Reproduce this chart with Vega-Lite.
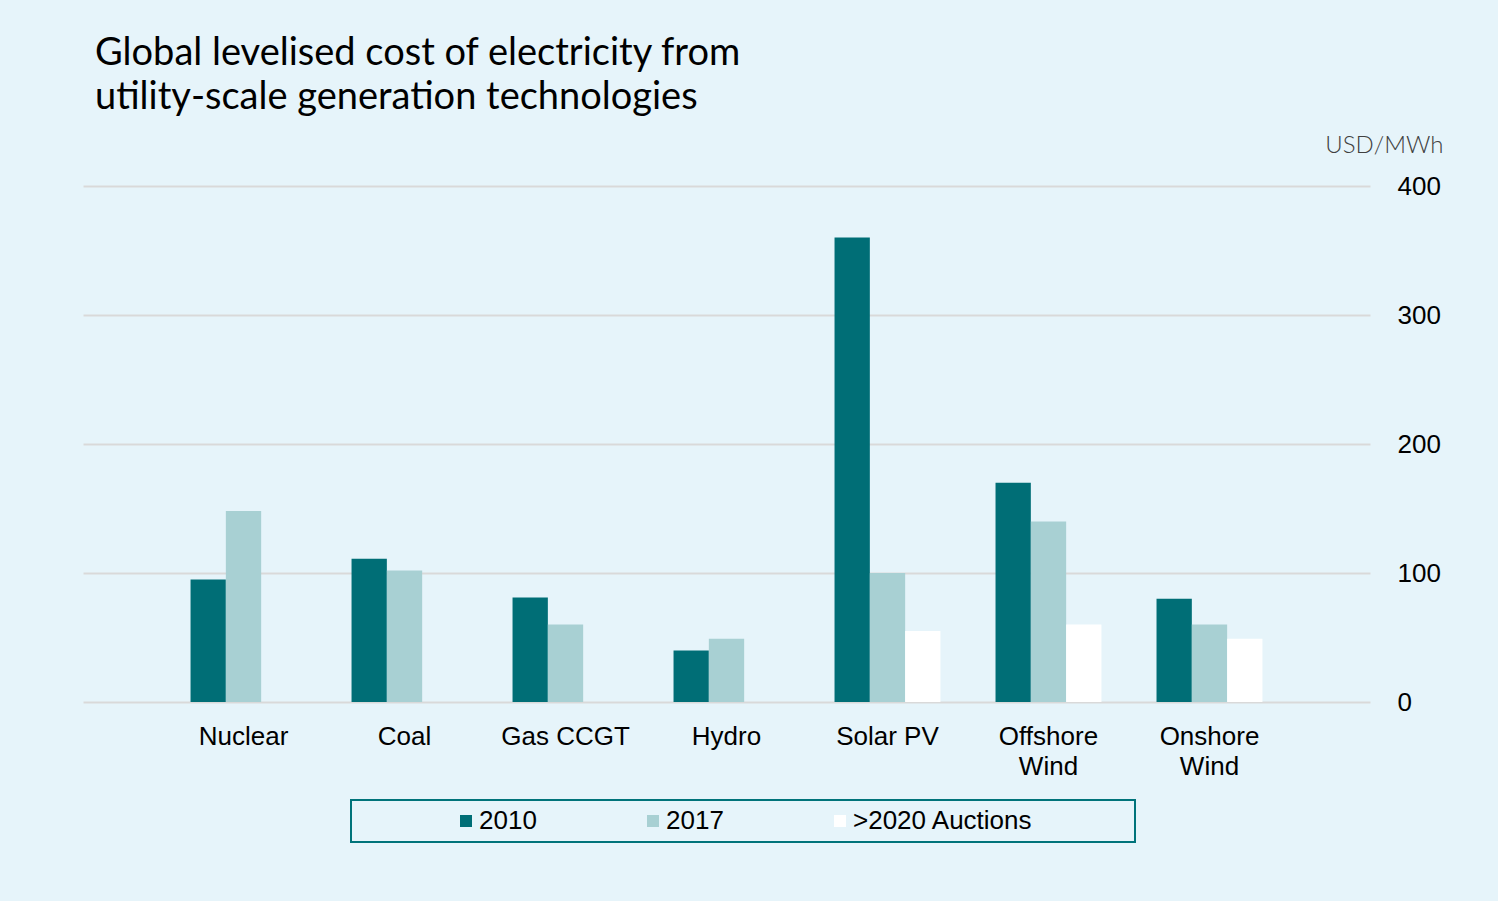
{
  "$schema": "https://vega.github.io/schema/vega-lite/v6.json",
  "width": 1287,
  "height": 516,
  "autosize": {"type": "none"},
  "padding": {"left": 83, "top": 186, "right": 128, "bottom": 199},
  "background": "#E6F4FA",
  "title": {
    "text": ["Global levelised cost of electricity from", "utility-scale generation technologies"],
    "anchor": "start",
    "frame": "group",
    "dx": 12,
    "offset": 16,
    "font": "Lato",
    "fontSize": 38,
    "fontWeight": "normal",
    "color": "#000000",
    "lineHeight": 44
  },
  "data": {
    "values": [
      {"technology": "Nuclear", "series": "2010", "value": 95},
      {"technology": "Nuclear", "series": "2017", "value": 148},
      {"technology": "Coal", "series": "2010", "value": 111},
      {"technology": "Coal", "series": "2017", "value": 102},
      {"technology": "Gas CCGT", "series": "2010", "value": 81},
      {"technology": "Gas CCGT", "series": "2017", "value": 60},
      {"technology": "Hydro", "series": "2010", "value": 40},
      {"technology": "Hydro", "series": "2017", "value": 49},
      {"technology": "Solar PV", "series": "2010", "value": 360},
      {"technology": "Solar PV", "series": "2017", "value": 100},
      {"technology": "Solar PV", "series": ">2020 Auctions", "value": 55},
      {"technology": "Offshore Wind", "series": "2010", "value": 170},
      {"technology": "Offshore Wind", "series": "2017", "value": 140},
      {"technology": "Offshore Wind", "series": ">2020 Auctions", "value": 60},
      {"technology": "Onshore Wind", "series": "2010", "value": 80},
      {"technology": "Onshore Wind", "series": "2017", "value": 60},
      {"technology": "Onshore Wind", "series": ">2020 Auctions", "value": 49}
    ]
  },
  "mark": {"type": "bar"},
  "encoding": {
    "x": {
      "field": "technology",
      "type": "nominal",
      "sort": ["Nuclear", "Coal", "Gas CCGT", "Hydro", "Solar PV", "Offshore Wind", "Onshore Wind"],
      "scale": {"paddingInner": 0.342, "paddingOuter": 0.668},
      "axis": {
        "title": null,
        "domain": false,
        "ticks": false,
        "grid": false,
        "labelAngle": 0,
        "labelFont": "Liberation Sans",
        "labelFontSize": 26,
        "labelColor": "#000000",
        "labelPadding": 21,
        "labelLineHeight": 30,
        "labelExpr": "indexof(datum.label, 'Wind') > 0 ? split(datum.label, ' ') : datum.label"
      }
    },
    "xOffset": {
      "field": "series",
      "type": "nominal",
      "scale": {"domain": ["2010", "2017", ">2020 Auctions"]}
    },
    "y": {
      "field": "value",
      "type": "quantitative",
      "scale": {"domain": [0, 400]},
      "axis": {
        "orient": "right",
        "values": [0, 100, 200, 300, 400],
        "grid": true,
        "gridColor": "#D9D9D9",
        "gridWidth": 2,
        "domain": false,
        "ticks": false,
        "labelAlign": "left",
        "labelPadding": 27,
        "labelFont": "Liberation Sans",
        "labelFontSize": 26,
        "labelColor": "#000000",
        "title": "USD/MWh",
        "titleAngle": 0,
        "titleAlign": "right",
        "titleBaseline": "alphabetic",
        "titleX": 73,
        "titleY": -34,
        "titleFont": "Lato",
        "titleFontWeight": 300,
        "titleFontSize": 24,
        "titleColor": "#404040"
      }
    },
    "color": {
      "field": "series",
      "type": "nominal",
      "scale": {"domain": ["2010", "2017", ">2020 Auctions"], "range": ["#006E76", "#A8D0D3", "#FFFFFF"]},
      "legend": {
        "orient": "none",
        "legendX": 268,
        "legendY": 614,
        "direction": "horizontal",
        "columns": 3,
        "title": "\u00a0",
        "titleOrient": "left",
        "titlePadding": 94,
        "titleFont": "Liberation Sans",
        "titleFontSize": 26,
        "symbolType": "square",
        "symbolSize": 144,
        "symbolStrokeWidth": 0,
        "symbolOpacity": 1,
        "labelFont": "Liberation Sans",
        "labelFontSize": 26,
        "labelColor": "#000000",
        "labelOffset": 0,
        "labelLimit": 600,
        "columnPadding": 103,
        "padding": 8,
        "strokeColor": "#00737A",
        "labelExpr": "datum.label == '>2020 Auctions' ? datum.label + '\u00a0\u00a0\u00a0\u00a0\u00a0\u00a0\u00a0\u00a0\u00a0\u00a0\u00a0\u00a0\u00a0\u200b' : datum.label"
      }
    }
  },
  "config": {"view": {"stroke": null}, "legend": {"strokeWidth": 2}}
}
